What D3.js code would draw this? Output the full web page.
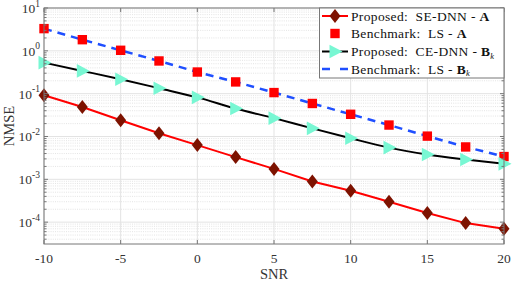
<!DOCTYPE html>
<html><head><meta charset="utf-8">
<script src="https://cdn.jsdelivr.net/npm/d3@7"></script>
<style>body{margin:0;background:#fff}svg{display:block}text{font-family:"Liberation Serif","DejaVu Serif",serif;white-space:pre}</style>
</head><body><svg id="c" width="512" height="282"></svg>
<script>
const snr = [-10,-7.5,-5,-2.5,0,2.5,5,7.5,10,12.5,15,17.5,20];
const seDnnA = [0.092,0.049,0.024,0.0119,0.0063,0.0033,0.00175,0.00089,0.00054,0.000300,0.000163,0.000095,0.00007];
const lsA = [3.3,1.82,1.03,0.58,0.32,0.188,0.106,0.059,0.033,0.0185,0.0102,0.0057,0.0034];
const ceDnnB = [0.53,0.34,0.217,0.134,0.082,0.045,0.0268,0.0155,0.0091,0.0055,0.0038,0.0029,0.0023];
const lsB = lsA;
const xTicks = [-10,-5,0,5,10,15,20];
const yTicks = [-4,-3,-2,-1,0,1];
const legendLabels = [
  ["Proposed:  SE-DNN - ", "A", ""],
  ["Benchmark:  LS - ", "A", ""],
  ["Proposed:  CE-DNN - ", "B", "k"],
  ["Benchmark:  LS - ", "B", "k"]
];

const svg = d3.select("#c");
const L=44,R=504,T=8,B=244;
const x = d3.scaleLinear().domain([-10,20]).range([L,R]);
const y = d3.scaleLog().domain([Math.pow(10,-4.51),10]).range([B,T]);

// grid
const g = svg.append("g");
const minor=[];
for(let e=-5;e<1;e++) for(let k=2;k<=9;k++){const v=k*Math.pow(10,e); if(v>=y.domain()[0]&&v<=10) minor.push(v);}
g.selectAll(".mn").data(minor).enter().append("line")
 .attr("x1",L).attr("x2",R).attr("y1",d=>y(d)).attr("y2",d=>y(d))
 .attr("stroke","#d8d8d8").attr("stroke-width",0.7).attr("stroke-dasharray","1,1.2");
g.selectAll(".mj").data(yTicks).enter().append("line")
 .attr("x1",L).attr("x2",R).attr("y1",d=>y(Math.pow(10,d))).attr("y2",d=>y(Math.pow(10,d)))
 .attr("stroke","#e3e3e3").attr("stroke-width",1);
g.selectAll(".vx").data(xTicks).enter().append("line")
 .attr("x1",d=>x(d)).attr("x2",d=>x(d)).attr("y1",T).attr("y2",B)
 .attr("stroke","#e3e3e3").attr("stroke-width",1);

// lines
const line = d3.line().x((d,i)=>x(snr[i])).y(d=>y(d));
svg.append("path").datum(seDnnA).attr("d",line).attr("fill","none").attr("stroke","#ff0000").attr("stroke-width",2);
svg.append("path").datum(ceDnnB).attr("d",d3.line().x((d,i)=>x(snr[i])).y(d=>y(d)).curve(d3.curveMonotoneX)).attr("fill","none").attr("stroke","#000").attr("stroke-width",2);
svg.append("path").datum(lsB).attr("d",line).attr("fill","none").attr("stroke","#1f4fff").attr("stroke-width",2.5).attr("stroke-dasharray","8,6");

// markers
function diamond(sel){sel.attr("d","M0,-7L5.5,0L0,7L-5.5,0Z").attr("fill","#7d1200");}
function square(sel){sel.attr("d","M-4.7,-4.7h9.4v9.4h-9.4Z").attr("fill","#ff0000");}
function tri(sel){sel.attr("d","M-5.5,-6.8L7.5,0L-5.5,6.8Z").attr("fill","#78f7d3");}
svg.selectAll(".dm").data(seDnnA).enter().append("path").call(diamond).attr("transform",(d,i)=>`translate(${x(snr[i])},${y(d)})`);
svg.selectAll(".sq").data(lsA).enter().append("path").call(square).attr("transform",(d,i)=>`translate(${x(snr[i])},${y(d)})`);
svg.selectAll(".tr").data(ceDnnB).enter().append("path").call(tri).attr("transform",(d,i)=>`translate(${x(snr[i])},${y(d)})`);

// axes frame
const ax = svg.append("g");
ax.append("rect").attr("x",L).attr("y",T).attr("width",R-L).attr("height",B-T).attr("fill","none").attr("stroke","#777").attr("stroke-width",1);
xTicks.forEach(t=>{
  ax.append("line").attr("x1",x(t)).attr("x2",x(t)).attr("y1",B).attr("y2",B-4).attr("stroke","#777");
  ax.append("line").attr("x1",x(t)).attr("x2",x(t)).attr("y1",T).attr("y2",T+4).attr("stroke","#777");
  ax.append("text").attr("x",x(t)).attr("y",263).attr("text-anchor","middle").attr("font-size",13.5).attr("fill","#333").text(t);
});
yTicks.forEach(t=>{
  const yy=y(Math.pow(10,t));
  ax.append("line").attr("x1",L).attr("x2",L+4).attr("y1",yy).attr("y2",yy).attr("stroke","#777");
  ax.append("line").attr("x1",R).attr("x2",R-4).attr("y1",yy).attr("y2",yy).attr("stroke","#777");
  const tx=ax.append("text").attr("x",40).attr("y",yy+5).attr("text-anchor","end").attr("font-size",13.5).attr("fill","#333");
  tx.append("tspan").text("10");
  tx.append("tspan").attr("dy",-6.5).attr("font-size",9.5).text(t);
});
minor.forEach(v=>{
  const yy=y(v);
  ax.append("line").attr("x1",L).attr("x2",L+2.5).attr("y1",yy).attr("y2",yy).attr("stroke","#777");
  ax.append("line").attr("x1",R).attr("x2",R-2.5).attr("y1",yy).attr("y2",yy).attr("stroke","#777");
});
ax.append("text").attr("x",(L+R)/2).attr("y",279).attr("text-anchor","middle").attr("font-size",14.5).attr("fill","#333").text("SNR");
ax.append("text").attr("transform",`translate(14,${(T+B)/2}) rotate(-90)`).attr("text-anchor","middle").attr("font-size",14.5).attr("fill","#333").text("NMSE");

// legend
const lg = svg.append("g");
lg.append("rect").attr("x",319.5).attr("y",T).attr("width",R-319.5).attr("height",70).attr("fill","#fff").attr("stroke","#777");
const rows=[16,33.5,51.5,69];
lg.append("line").attr("x1",322).attr("x2",348).attr("y1",rows[0]).attr("y2",rows[0]).attr("stroke","#f00").attr("stroke-width",2);
lg.append("path").call(diamond).attr("transform",`translate(335,${rows[0]})`);
lg.append("path").call(square).attr("transform",`translate(335,${rows[1]})`);
lg.append("line").attr("x1",322).attr("x2",348).attr("y1",rows[2]).attr("y2",rows[2]).attr("stroke","#000").attr("stroke-width",2);
lg.append("path").call(tri).attr("transform",`translate(335,${rows[2]})`);
lg.append("line").attr("x1",322).attr("x2",348).attr("y1",rows[3]).attr("y2",rows[3]).attr("stroke","#1f4fff").attr("stroke-width",2.5).attr("stroke-dasharray","8,10");
legendLabels.forEach((lb,i)=>{
  const t=lg.append("text").attr("x",351).attr("y",rows[i]+4.5).attr("font-size",13.5).attr("letter-spacing",0.35).attr("fill","#111");
  t.append("tspan").text(lb[0]);
  t.append("tspan").attr("font-weight","bold").text(lb[1]);
  if(lb[2]) t.append("tspan").attr("font-size",8.5).attr("font-style","italic").attr("dy",2.5).text(lb[2]);
});
</script></body></html>
